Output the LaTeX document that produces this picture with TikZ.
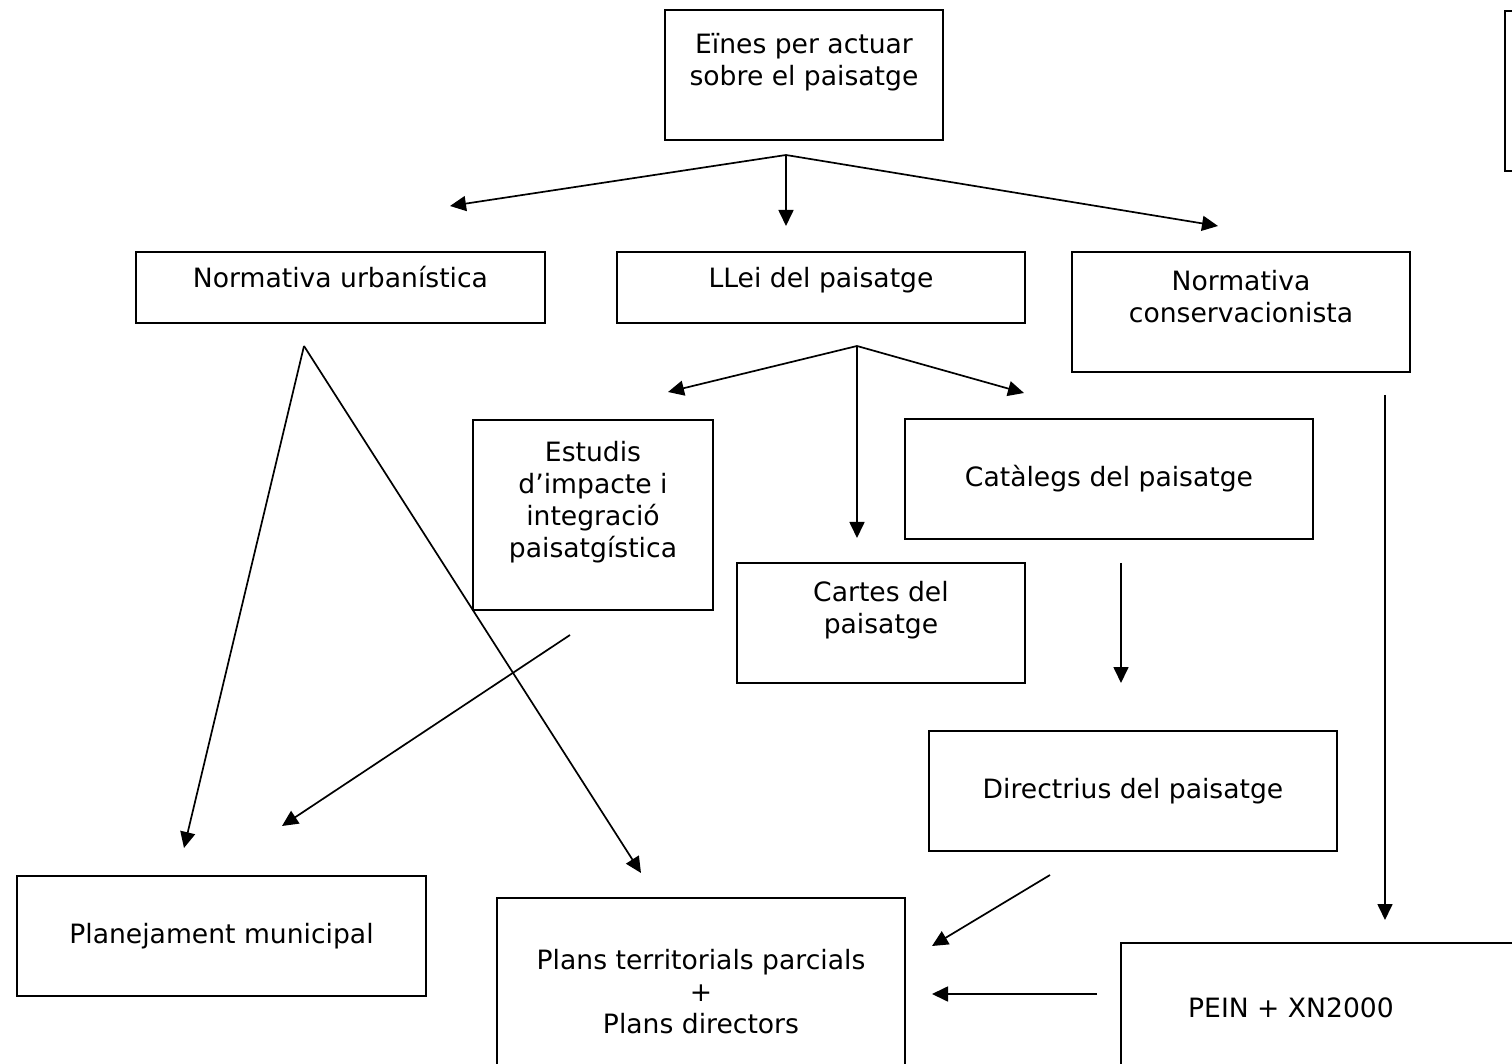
\documentclass[tikz,border=0pt]{standalone}
\usepackage{fontspec}
\setmainfont{DejaVu Sans}
\usepackage{tikz}
\usetikzlibrary{arrows.meta}
\tikzstyle{box} = [draw,line width=1pt,align=center,inner sep=0pt,font=\fontsize{13.3}{16}\selectfont]
\tikzstyle{raised} = [text height=10pt,text depth=9.5pt]
\tikzstyle{link} = [line width=0.85pt,-{Triangle[length=8pt,width=7.5pt]}]

\begin{document}
\begin{tikzpicture}[x=0.5pt,y=-0.5pt]
    \useasboundingbox (0,0) rectangle (1512,1064);

    % boxes
    \node[box,minimum width=139pt,minimum height=65pt] (eines) at (804,75) {E\"ines per actuar\\sobre el paisatge\\ };
    \node[box,raised,minimum width=204.5pt,minimum height=35.5pt] (urban) at (340.5,287.5) {Normativa urban\'istica};
    \node[box,raised,minimum width=204pt,minimum height=35.5pt] (llei) at (821,287.5) {LLei del paisatge};
    \node[box,minimum width=169pt,minimum height=60pt] (conserv) at (1241,312) {Normativa\\conservacionista\\ };
    \node[box,minimum width=120pt,minimum height=95pt] (estudis) at (593,515) {Estudis\\d’impacte i\\integraci\'o\\paisatg\'istica\\ };
    \node[box,minimum width=204pt,minimum height=60pt] (catalegs) at (1109,479) {Cat\`alegs del paisatge};
    \node[box,minimum width=144pt,minimum height=60pt] (cartes) at (881,623) {Cartes del\\paisatge\\ };
    \node[box,minimum width=204pt,minimum height=60pt] (directrius) at (1133,791) {Directrius del paisatge};
    \node[box,minimum width=204.5pt,minimum height=60pt] (planej) at (221.5,936) {Planejament municipal};
    \node[box,minimum width=204pt,minimum height=93.5pt] (plans) at (701,991.5) {Plans territorials parcials\\+\\Plans directors};
    \node[box,minimum width=219.5pt,minimum height=68.5pt] (pein) at (1340.5,1011.5) {};
    \node[box,draw=none] (peintext) at (1291,1008) {PEIN + XN2000};
    \node[box,minimum width=47.5pt,minimum height=80pt] (edge) at (1552.5,91) {};

    % free ends
    \coordinate (einesfork) at (786,155);
    \coordinate (urbanend) at (450,206);
    \coordinate (lleiend) at (786,226);
    \coordinate (conservend) at (1218,226);
    \coordinate (lleifork) at (857,346);
    \coordinate (estudisend) at (668,392);
    \coordinate (cartesend) at (857,538);
    \coordinate (catalegsend) at (1024,393);
    \coordinate (urbanfork) at (304,346);
    \coordinate (planejend) at (184,848);
    \coordinate (plansend) at (641,873);
    \coordinate (estudisstart) at (570,635);
    \coordinate (planejend2) at (282,826);
    \coordinate (catalegsstart) at (1121,563);
    \coordinate (directriusend) at (1121,683);
    \coordinate (conservstart) at (1385,395);
    \coordinate (peinend) at (1385,920);
    \coordinate (directriusstart) at (1050,875);
    \coordinate (plansend2) at (932,946);
    \coordinate (peinstart) at (1097,994);
    \coordinate (plansend3) at (932,994);

    % top branches
    \draw[link] (einesfork) -- (urbanend);
    \draw[link] (einesfork) -- (lleiend);
    \draw[link] (einesfork) -- (conservend);

    % llei branches
    \draw[link] (lleifork) -- (estudisend);
    \draw[link] (lleifork) -- (cartesend);
    \draw[link] (lleifork) -- (catalegsend);

    % urbanistica
    \draw[link] (urbanfork) -- (planejend);
    \draw[link] (urbanfork) -- (plansend);

    % lower links
    \draw[link] (estudisstart) -- (planejend2);
    \draw[link] (catalegsstart) -- (directriusend);
    \draw[link] (conservstart) -- (peinend);
    \draw[link] (directriusstart) -- (plansend2);
    \draw[link] (peinstart) -- (plansend3);
\end{tikzpicture}
\end{document}
